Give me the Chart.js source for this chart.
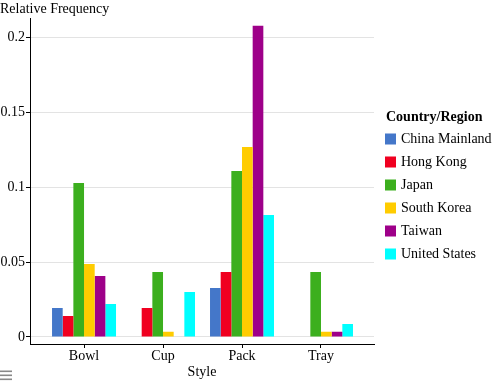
<!DOCTYPE html>
<html>
<head>
<meta charset="utf-8">
<script src="https://cdn.jsdelivr.net/npm/chart.js@4"></script>
<style>
html,body{margin:0;padding:0;background:#fff;}
#wrap{width:501px;height:381px;position:relative;}
</style>
</head>
<body>
<div id="wrap"><canvas id="c" width="501" height="381"></canvas></div>
<script>
const categories = ['Bowl', 'Cup', 'Pack', 'Tray'];
const seriesNames = ['China Mainland', 'Hong Kong', 'Japan', 'South Korea', 'Taiwan', 'United States'];
const chinaMainland = [0.0194, null, 0.0328, null];
const hongKong = [0.0140, 0.0194, 0.0435, null];
const japan = [0.103, 0.0435, 0.111, 0.0435];
const southKorea = [0.0488, 0.0035, 0.127, 0.0035];
const taiwan = [0.0408, null, 0.208, 0.0035];
const unitedStates = [0.0221, 0.030, 0.0816, 0.0087];
const yTicks = [0, 0.05, 0.1, 0.15, 0.2];
const colors = ['#4477C9', '#F00020', '#3CAF1E', '#FFCC00', '#9E0089', '#00FFFF'];

const seriesValues = [chinaMainland, hongKong, japan, southKorea, taiwan, unitedStates];
const FONT = "'Liberation Serif', 'Times New Roman', serif";

const legendPlugin = {
  id: 'customLegend',
  afterDraw(chart) {
    const ctx = chart.ctx;
    ctx.save();
    ctx.textBaseline = 'middle';
    ctx.textAlign = 'left';
    ctx.fillStyle = '#000';
    ctx.font = 'bold 14px ' + FONT;
    ctx.fillText('Country/Region', 386, 117);
    ctx.font = '14px ' + FONT;
    chart.data.datasets.forEach((ds, i) => {
      const y = 139 + i * 23;
      ctx.fillStyle = ds.backgroundColor;
      ctx.fillRect(385, y - 5.5, 11, 11);
      ctx.fillStyle = '#000';
      ctx.fillText(ds.label, 401, y);
    });
    // menu icon
    ctx.fillStyle = '#888';
    [370.5, 374.5, 378.5].forEach(y => ctx.fillRect(0, y, 12, 1.6));
    ctx.restore();
  }
};

new Chart(document.getElementById('c'), {
  type: 'bar',
  data: {
    labels: categories.map((_, i) => i),
    datasets: seriesNames.map((name, i) => ({
      label: name,
      data: seriesValues[i],
      backgroundColor: colors[i],
      borderWidth: 0,
      categoryPercentage: 0.81,
      barPercentage: 1.0
    }))
  },
  options: {
    responsive: false,
    animation: false,
    layout: { padding: { left: 0, right: 127, top: 0, bottom: 0 } },
    plugins: {
      legend: { display: false },
      tooltip: { enabled: false },
      title: {
        display: true,
        text: 'Relative Frequency',
        align: 'start',
        color: '#000',
        font: { family: FONT, size: 14, weight: 'normal' },
        padding: { top: 1, bottom: 1 }
      }
    },
    scales: {
      x: {
        type: 'linear',
        offset: false,
        min: -0.684,
        max: 3.671,
        afterBuildTicks(scale) { scale.ticks = categories.map((_, i) => ({ value: i })); },
        afterFit(scale) { scale.height = 37; },
        grid: { display: true, offset: false, drawOnChartArea: false, drawTicks: true, tickLength: 4, tickColor: '#000' },
        border: { display: true, color: '#000', width: 1 },
        ticks: {
          padding: 0,
          color: '#000',
          font: { family: FONT, size: 14 },
          maxRotation: 0,
          autoSkip: false,
          callback: (v) => categories[v]
        },
        title: {
          display: true,
          text: 'Style',
          color: '#000',
          font: { family: FONT, size: 14 },
          padding: { top: 0, bottom: 0 }
        }
      },
      y: {
        min: -0.0047,
        max: 0.2127,
        afterBuildTicks(scale) { scale.ticks = yTicks.map(v => ({ value: v })); },
        afterFit(scale) { scale.width = 30; },
        grid: { color: '#e3e3e3', tickColor: '#000', tickLength: 4, drawTicks: true },
        border: { display: true, color: '#000', width: 1 },
        ticks: {
          padding: 1,
          color: '#000',
          font: { family: FONT, size: 14 },
          callback: (v) => String(v)
        }
      }
    }
  },
  plugins: [legendPlugin]
});
</script>
</body>
</html>
